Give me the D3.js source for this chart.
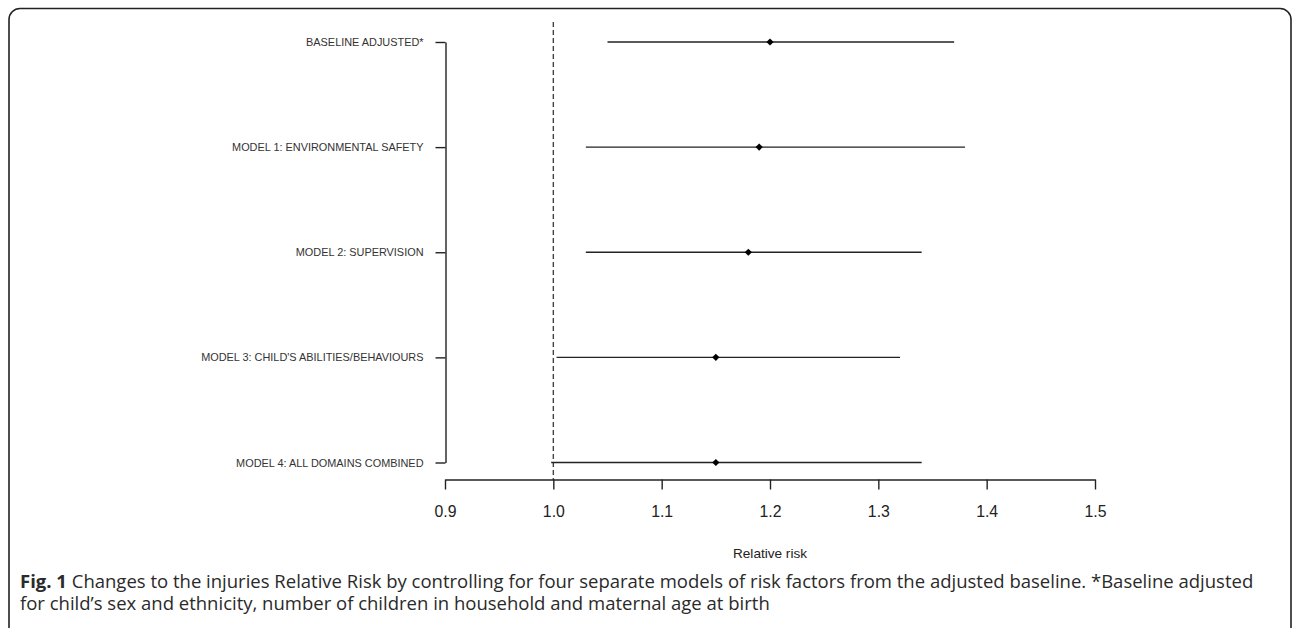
<!DOCTYPE html>
<html>
<head>
<meta charset="utf-8">
<script src="https://cdn.jsdelivr.net/npm/d3@7"></script>
<style>
  html, body { margin: 0; padding: 0; background: #fff; }
  svg { display: block; }
</style>
</head>
<body>
<svg id="chart" width="1292" height="628"></svg>
<script>
const categories = [
  "BASELINE ADJUSTED*",
  "MODEL 1: ENVIRONMENTAL SAFETY",
  "MODEL 2: SUPERVISION",
  "MODEL 3: CHILD'S ABILITIES/BEHAVIOURS",
  "MODEL 4: ALL DOMAINS COMBINED"
];
const estimates = [1.20, 1.19, 1.18, 1.15, 1.15];
const lower = [1.05, 1.03, 1.03, 1.003, 0.998];
const upper = [1.37, 1.38, 1.34, 1.32, 1.34];
const xTicks = [0.9, 1.0, 1.1, 1.2, 1.3, 1.4, 1.5];
const refValue = 1.0;
const xLabel = "Relative risk";
const captionBold = "Fig. 1";
const captionLine1 = " Changes to the injuries Relative Risk by controlling for four separate models of risk factors from the adjusted baseline. *Baseline adjusted";
const captionLine2 = "for child\u2019s sex and ethnicity, number of children in household and maternal age at birth";

const svg = d3.select("#chart");

// frame
svg.append("rect")
  .attr("x", 9).attr("y", 8.5)
  .attr("width", 1282).attr("height", 640)
  .attr("rx", 11).attr("ry", 11)
  .attr("fill", "none").attr("stroke", "#222").attr("stroke-width", 1.6);

const x = d3.scaleLinear().domain([0.9, 1.5]).range([445, 1095]);
const y = d3.scalePoint().domain(categories).range([42, 462.5]);

// reference dashed line
svg.append("line")
  .attr("x1", x(refValue)).attr("x2", x(refValue))
  .attr("y1", 22).attr("y2", 480)
  .attr("stroke", "#444").attr("stroke-width", 1.4)
  .attr("stroke-dasharray", "5,3");

// x axis
const xAxis = svg.append("g")
  .attr("transform", "translate(0,479.5)")
  .call(d3.axisBottom(x).tickValues(xTicks).tickFormat(d3.format(".1f"))
    .tickSize(10).tickSizeOuter(0).tickPadding(16));
xAxis.select(".domain").attr("stroke", "#222").attr("stroke-width", 1.4);
xAxis.selectAll(".tick line").attr("stroke", "#222").attr("stroke-width", 1.4);
xAxis.selectAll(".tick text")
  .attr("font-family", "'Liberation Sans', Arial, sans-serif")
  .attr("font-size", "15.8px").attr("fill", "#222");

// y axis
const yAxis = svg.append("g")
  .attr("transform", "translate(445.5,0)")
  .call(d3.axisLeft(y).tickSize(10).tickSizeOuter(0).tickPadding(12));
yAxis.select(".domain").attr("stroke", "#222").attr("stroke-width", 1.4);
yAxis.selectAll(".tick line").attr("stroke", "#222").attr("stroke-width", 1.4);
yAxis.selectAll(".tick text")
  .attr("font-family", "'Liberation Sans', Arial, sans-serif")
  .attr("font-size", "10.9px").attr("fill", "#333");

// x label
svg.append("text")
  .attr("x", (x.range()[0] + x.range()[1]) / 2).attr("y", 558)
  .attr("text-anchor", "middle")
  .attr("font-family", "'Liberation Sans', Arial, sans-serif")
  .attr("font-size", "13.6px").attr("fill", "#222")
  .text(xLabel);

// CI lines
const rows = categories.map((c, i) => ({c, est: estimates[i], lo: lower[i], hi: upper[i]}));
svg.append("g").selectAll("line").data(rows).join("line")
  .attr("x1", d => x(d.lo)).attr("x2", d => x(d.hi))
  .attr("y1", d => y(d.c)).attr("y2", d => y(d.c))
  .attr("stroke", "#222").attr("stroke-width", 1.4);

// points
svg.append("g").selectAll("path").data(rows).join("path")
  .attr("d", d3.symbol().type(d3.symbolSquare).size(26))
  .attr("transform", d => `translate(${x(d.est)},${y(d.c)}) rotate(45)`)
  .attr("fill", "#000");

// caption
const cap = svg.append("g")
  .attr("font-family", "'Open Sans', 'Noto Sans', sans-serif")
  .attr("fill", "#2a2a2a");
const t1 = cap.append("text").attr("x", 20).attr("y", 587.5).attr("font-size", "16px");
t1.append("tspan").attr("font-weight", "bold").text(captionBold);
t1.append("tspan").text(captionLine1);
const t2 = cap.append("text").attr("x", 20).attr("y", 610).attr("font-size", "16px").text(captionLine2);
// fit font size so first line spans the measured width
const w1 = t1.node().getComputedTextLength();
const fs = 16 * 1234 / w1;
t1.attr("font-size", fs + "px");
t2.attr("font-size", fs + "px");
</script>
</body>
</html>
